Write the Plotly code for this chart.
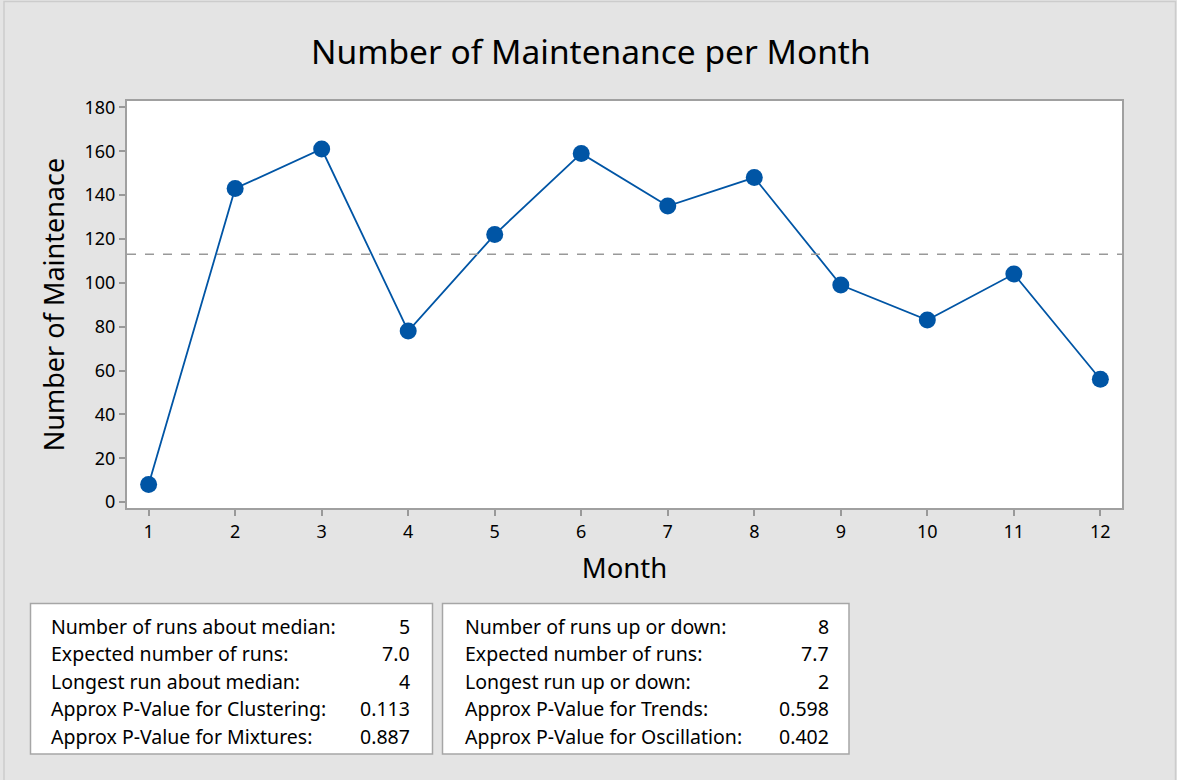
import plotly.graph_objects as go

months = list(range(1, 13))
maintenance = [8, 143, 161, 78, 122, 159, 135, 148, 99, 83, 104, 56]
median_value = 113
y_ticks = [0, 20, 40, 60, 80, 100, 120, 140, 160, 180]

left_labels = ["Number of runs about median:", "Expected number of runs:",
               "Longest run about median:", "Approx P-Value for Clustering:",
               "Approx P-Value for Mixtures:"]
left_values = ["5", "7.0", "4", "0.113", "0.887"]
right_labels = ["Number of runs up or down:", "Expected number of runs:",
                "Longest run up or down:", "Approx P-Value for Trends:",
                "Approx P-Value for Oscillation:"]
right_values = ["8", "7.7", "2", "0.598", "0.402"]

FONT = "Noto Sans"
W, H = 1177, 780
L, R, T, B = 127, 55, 101, 272
pw, ph = W - L - R, H - T - B

def px(x):
    return (x - L) / pw

def py(y):
    return (H - B - y) / ph

fig = go.Figure()
fig.add_trace(go.Scatter(
    x=months, y=maintenance, mode="lines+markers",
    line=dict(color="#0055a5", width=1.8),
    marker=dict(color="#0055a5", size=17),
    showlegend=False, hoverinfo="x+y"))

fig.add_shape(type="line", xref="paper", yref="y", x0=0, x1=1,
              y0=median_value, y1=median_value,
              line=dict(color="#999999", width=1.6, dash="dash"))

# outer border
fig.add_shape(type="rect", xref="paper", yref="paper",
              x0=px(4), x1=px(1175.5), y0=py(790), y1=py(1.5),
              line=dict(color="#cccccc", width=1.5), fillcolor="rgba(0,0,0,0)", layer="below")

# stats boxes
for bx0, bx1 in [(30.5, 432.5), (442.5, 849)]:
    fig.add_shape(type="rect", xref="paper", yref="paper",
                  x0=px(bx0), x1=px(bx1), y0=py(754), y1=py(603.5),
                  line=dict(color="#a6a6a6", width=1.5), fillcolor="white")

row_y = [626, 653, 681, 708.5, 736]
for labels, values, lx, vx in [(left_labels, left_values, 49, 412),
                               (right_labels, right_values, 463, 831)]:
    for lab, val, yy in zip(labels, values, row_y):
        fig.add_annotation(xref="paper", yref="paper", x=px(lx), y=py(yy),
                           text=lab, showarrow=False, xanchor="left", yanchor="middle",
                           font=dict(family=FONT, size=19.5, color="black"))
        fig.add_annotation(xref="paper", yref="paper", x=px(vx), y=py(yy),
                           text=val, showarrow=False, xanchor="right", yanchor="middle",
                           font=dict(family=FONT, size=19.5, color="black"))

fig.update_layout(
    width=W, height=H,
    margin=dict(l=L, r=R, t=T, b=B),
    paper_bgcolor="#e4e4e4", plot_bgcolor="white",
    title=dict(text="Number of Maintenance per Month", x=0.502, xanchor="center",
               y=1 - 52 / H, yanchor="middle",
               font=dict(family=FONT, size=33.5, color="black")),
    font=dict(family=FONT, color="black"),
)
fig.update_xaxes(
    range=[0.75, 12.25], tickmode="array", tickvals=months,
    ticks="outside", ticklen=6, tickwidth=1.5, tickcolor="#999999",
    showline=True, linecolor="#a0a0a0", linewidth=2, mirror=True,
    showgrid=False, zeroline=False,
    tickfont=dict(family=FONT, size=18, color="black"),
    title=dict(text="Month", font=dict(family=FONT, size=27.5, color="black"), standoff=17),
)
fig.update_yaxes(
    range=[-2.7, 182.9], tickmode="array", tickvals=y_ticks,
    ticks="outside", ticklen=6, tickwidth=1.5, tickcolor="#999999",
    showline=True, linecolor="#a0a0a0", linewidth=2, mirror=True,
    showgrid=False, zeroline=False,
    tickfont=dict(family=FONT, size=18, color="black"),
    title=dict(text="Number of Maintenace", font=dict(family=FONT, size=27, color="black"), standoff=12),
)

fig.write_html("out.html", config={"displayModeBar": False},
               post_script="document.body.style.margin='0';document.body.style.overflow='hidden';")
